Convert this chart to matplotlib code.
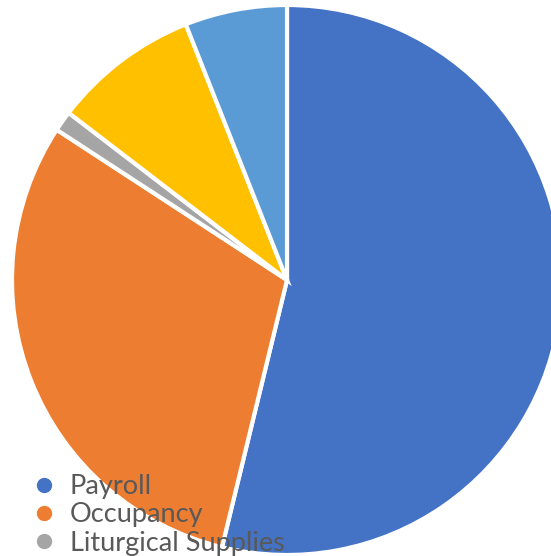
import matplotlib.pyplot as plt
from matplotlib.lines import Line2D

# Expense shares (percent), clockwise from 12 o'clock
labels = ['Payroll', 'Occupancy', 'Liturgical Supplies', 'Programs', 'Other']
shares = [53.8, 30.4, 1.2, 8.6, 6.0]
colors = ['#4472C4', '#ED7D31', '#A5A5A5', '#FFC000', '#5B9BD5']
legend_n = 3  # only the first entries are visible in the frame

fig = plt.figure(figsize=(5.51, 5.56), dpi=100)
ax = fig.add_axes([0, 0, 1, 1])

ax.pie(shares, colors=colors, startangle=90, counterclock=False, radius=1,
       wedgeprops=dict(edgecolor='white', linewidth=3.0))

# pie centre at ~(287, 280) px with radius ~275 px
r = 275.0
ax.set_xlim(-287 / r, (551 - 287) / r)
ax.set_ylim(-(556 - 280) / r, 280 / r)
ax.set_aspect('auto')
ax.axis('off')

handles = [Line2D([], [], marker='o', linestyle='none', markersize=10,
                  markerfacecolor=c, markeredgecolor=c) for c in colors[:legend_n]]
fig.legend(handles, labels[:legend_n], loc='upper left',
           bbox_to_anchor=(32 / 551, 1 - 474 / 556), frameon=False,
           prop=dict(family='Lato', size=19.5), labelcolor='#595959',
           handletextpad=0.5, labelspacing=0.12, borderpad=0, borderaxespad=0,
           handlelength=0.9)

fig.savefig('out.png', dpi=100)
